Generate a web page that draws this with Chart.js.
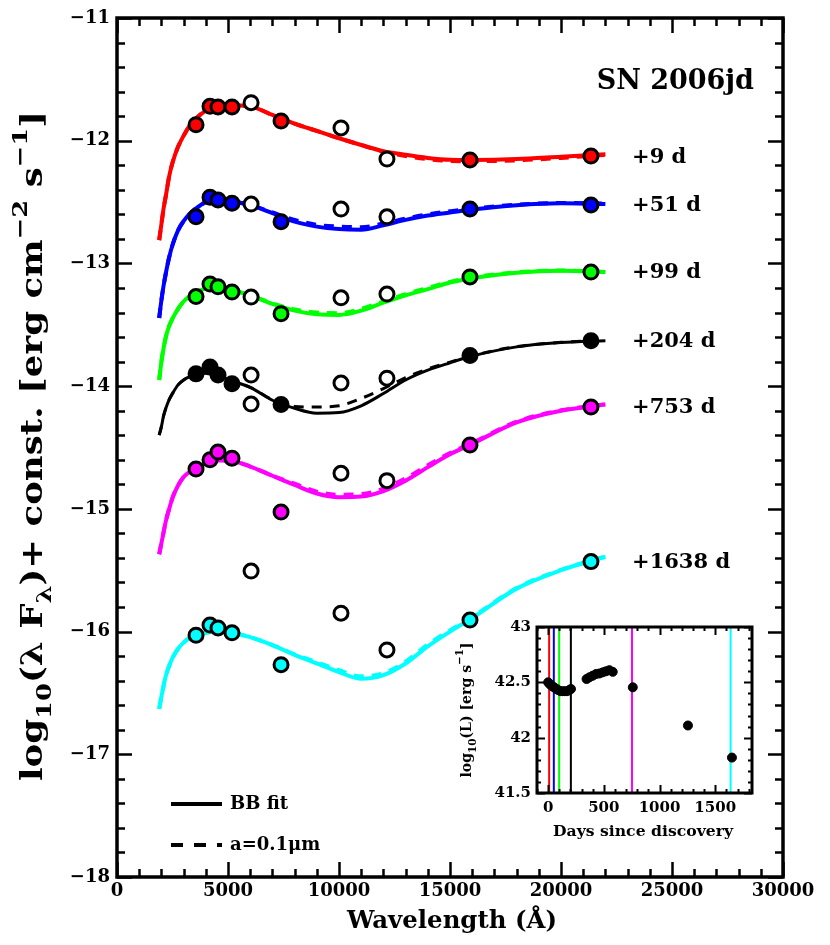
<!DOCTYPE html>
<html>
<head>
<meta charset="utf-8">
<script src="https://cdn.jsdelivr.net/npm/chart.js@4.4.1/dist/chart.umd.min.js"></script>
<style>
html, body { margin: 0; padding: 0; background: #fff; }
#wrap { position: relative; width: 830px; height: 945px; }
#main { position: absolute; left: 0; top: 0; }
#inset { position: absolute; left: 440px; top: 610px; }
</style>
</head>
<body>
<div id="wrap">
  <canvas id="main" width="830" height="945"></canvas>
  <canvas id="inset" width="320" height="235"></canvas>
</div>
<script>
// photometry bands (Angstrom)
const bandWave = [3560, 4190, 4550, 5180, 6040, 7390, 10090, 12160, 15900, 21350];

const epochLabels = ['+9 d', '+51 d', '+99 d', '+204 d', '+753 d', '+1638 d'];
const epochDays = [9, 51, 99, 204, 753, 1638];
const epochColors = ['#ff0000', '#0000ff', '#00ff00', '#000000', '#ff00ff', '#00ffff'];

// filled symbols (null = none in that band)
const fill9    = [-11.87, -11.72, -11.725, -11.725, null, -11.84, null, null, -12.157, -12.125];
const fill51   = [-12.62, -12.46, -12.483, -12.51, null, -12.66, null, null, -12.557, -12.524];
const fill99   = [-13.27, -13.168, -13.19, -13.233, null, -13.41, null, null, -13.11, -13.07];
const fill204  = [-13.90, -13.845, -13.91, -13.98, null, -14.15, null, null, -13.75, -13.63];
const fill753  = [-14.676, -14.60, -14.537, -14.587, null, -15.026, null, null, -14.48, -14.17];
const fill1638 = [-16.03, -15.947, -15.97, -16.01, null, -16.27, null, null, -15.906, -15.43];

// open symbols
const open9    = [null, null, null, null, -11.69, null, -11.896, -12.149, null, null];
const open51   = [null, null, null, null, -12.516, null, -12.557, -12.62, null, null];
const open99   = [null, null, null, null, -13.274, null, -13.28, -13.25, null, null];
const open204  = [null, null, null, null, -13.91, null, -13.975, -13.935, null, null];
const open753  = [null, null, null, null, -14.146, null, -14.71, -14.77, null, null];
const open1638 = [null, null, null, null, -15.507, null, -15.85, -16.15, null, null];

// model curves
const curveWave = [1900, 2000, 2100, 2200, 2350, 2500, 2750, 3000, 3250, 3500, 4000, 4500, 5000, 6000, 7000,
                   8000, 9000, 10000, 11000, 12000, 13000, 14000, 15000, 16000, 18000, 20000, 22000];

const bb9     = [-12.81, -12.68, -12.55, -12.45, -12.29, -12.18, -12.05, -11.96, -11.885, -11.83, -11.755, -11.72,
                 -11.71, -11.72, -11.79, -11.86, -11.92, -11.98, -12.035, -12.085, -12.115, -12.14, -12.155,
                 -12.157, -12.15, -12.13, -12.11];
const dust9   = [-12.81, -12.68, -12.55, -12.45, -12.29, -12.18, -12.05, -11.96, -11.885, -11.83, -11.755, -11.72,
                 -11.71, -11.72, -11.79, -11.86, -11.92, -11.98, -12.035, -12.09, -12.125, -12.15, -12.165,
                 -12.167, -12.16, -12.14, -12.115];
const bb51    = [-13.445, -13.30, -13.18, -13.08, -12.95, -12.85, -12.73, -12.655, -12.60, -12.56, -12.50, -12.485,
                 -12.49, -12.525, -12.59, -12.66, -12.70, -12.72, -12.725, -12.69, -12.645, -12.61, -12.585,
                 -12.56, -12.525, -12.51, -12.515];
const dust51  = [-13.445, -13.30, -13.18, -13.08, -12.95, -12.85, -12.73, -12.655, -12.60, -12.56, -12.50, -12.485,
                 -12.49, -12.525, -12.585, -12.645, -12.685, -12.70, -12.705, -12.675, -12.635, -12.60, -12.575,
                 -12.553, -12.522, -12.508, -12.512];
const bb99    = [-13.95, -13.80, -13.69, -13.60, -13.51, -13.45, -13.37, -13.31, -13.27, -13.245, -13.205, -13.20,
                 -13.21, -13.26, -13.33, -13.385, -13.415, -13.42, -13.385, -13.32, -13.26, -13.21, -13.155,
                 -13.12, -13.075, -13.06, -13.07];
const dust99  = [-13.95, -13.80, -13.69, -13.60, -13.51, -13.45, -13.37, -13.31, -13.27, -13.245, -13.205, -13.20,
                 -13.21, -13.26, -13.325, -13.375, -13.40, -13.405, -13.37, -13.31, -13.25, -13.20, -13.15,
                 -13.115, -13.072, -13.058, -13.068];
const bb204   = [-14.40, -14.33, -14.24, -14.18, -14.11, -14.06, -13.99, -13.95, -13.925, -13.91, -13.895, -13.90,
                 -13.945, -14.01, -14.115, -14.18, -14.22, -14.215, -14.16, -14.06, -13.95, -13.87, -13.81,
                 -13.755, -13.68, -13.645, -13.63];
const dust204 = [-14.40, -14.33, -14.24, -14.18, -14.11, -14.06, -13.99, -13.95, -13.925, -13.91, -13.895, -13.90,
                 -13.945, -14.01, -14.11, -14.165, -14.17, -14.16, -14.10, -14.02, -13.93, -13.86, -13.805,
                 -13.752, -13.678, -13.643, -13.628];
const bb753   = [-15.37, -15.28, -15.19, -15.10, -15.00, -14.91, -14.81, -14.74, -14.70, -14.675, -14.63, -14.605,
                 -14.605, -14.655, -14.73, -14.805, -14.875, -14.905, -14.90, -14.855, -14.77, -14.66, -14.555,
                 -14.47, -14.295, -14.20, -14.15];
const dust753 = [-15.37, -15.28, -15.19, -15.10, -15.00, -14.91, -14.81, -14.74, -14.70, -14.675, -14.63, -14.605,
                 -14.605, -14.655, -14.73, -14.795, -14.86, -14.885, -14.88, -14.835, -14.752, -14.645, -14.545,
                 -14.462, -14.29, -14.197, -14.148];
const bb1638  = [-16.63, -16.53, -16.44, -16.36, -16.28, -16.215, -16.14, -16.09, -16.055, -16.035, -16.01, -16.0,
                 -16.005, -16.045, -16.11, -16.19, -16.26, -16.33, -16.385, -16.355, -16.26, -16.12, -16.0,
                 -15.89, -15.65, -15.50, -15.39];
const dust1638 = [-16.63, -16.53, -16.44, -16.36, -16.28, -16.215, -16.14, -16.09, -16.055, -16.035, -16.01, -16.0,
                 -16.005, -16.045, -16.11, -16.185, -16.25, -16.315, -16.365, -16.34, -16.245, -16.105, -15.99,
                 -15.882, -15.645, -15.497, -15.388];

const fills = [fill9, fill51, fill99, fill204, fill753, fill1638];
const opens = [open9, open51, open99, open204, open753, open1638];
const bbFits = [bb9, bb51, bb99, bb204, bb753, bb1638];
const dustFits = [dust9, dust51, dust99, dust204, dust753, dust1638];

// axis ticks
const xTicks = [0, 5000, 10000, 15000, 20000, 25000, 30000];
const yTicks = [-18, -17, -16, -15, -14, -13, -12, -11];

// inset light curve
const lcDays = [0, 10, 20, 30, 45, 60, 75, 90, 110, 130, 150, 170, 190, 205,
                345, 370, 400, 430, 460, 490, 520, 550, 580, 760, 1255, 1650];
const lcLogL = [42.50, 42.49, 42.48, 42.47, 42.46, 42.45, 42.44, 42.43, 42.42, 42.42, 42.42, 42.42, 42.43, 42.44,
                42.53, 42.545, 42.56, 42.575, 42.58, 42.59, 42.60, 42.61, 42.595, 42.455, 42.11, 41.82];
const insetXTicks = [0, 500, 1000, 1500];
const insetYTicks = [41.5, 42, 42.5, 43];

const SERIF = "'DejaVu Serif', serif";

function toPoints(xs, ys) {
    const pts = [];
    xs.forEach(function (x, i) {
        if (ys[i] !== null) pts.push({ x: x, y: ys[i] });
    });
    return pts;
}

function minorValues(min, max, step) {
    const out = [];
    const start = Math.ceil(min / step - 1e-9);
    const end = Math.floor(max / step + 1e-9);
    for (let k = start; k <= end; k++) out.push(+(k * step).toFixed(6));
    return out;
}

// draws text pieces (sub/superscripts) centred on (cx, cy); optional rotation and stretch to a width
function drawRich(ctx, parts, cx, cy, rotate, width) {
    ctx.save();
    ctx.translate(cx, cy);
    if (rotate) ctx.rotate(-Math.PI / 2);
    let total = 0;
    parts.forEach(function (p) {
        ctx.font = 'bold ' + p.size + 'px ' + SERIF;
        p.w = ctx.measureText(p.t).width;
        total += p.w;
    });
    if (width) ctx.scale(width / total, 1);
    let x = -total / 2;
    ctx.textAlign = 'left';
    ctx.textBaseline = 'alphabetic';
    ctx.fillStyle = '#000';
    parts.forEach(function (p) {
        ctx.font = 'bold ' + p.size + 'px ' + SERIF;
        ctx.fillText(p.t, x, p.dy);
        x += p.w;
    });
    ctx.restore();
}

function drawFrame(chart, o) {
    const ctx = chart.ctx;
    const a = chart.chartArea;
    const xs = chart.scales.x, ys = chart.scales.y;
    ctx.save();
    ctx.strokeStyle = '#000';
    ctx.lineWidth = o.tickWidth;
    ctx.beginPath();
    minorValues(xs.min, xs.max, o.xMinor).forEach(function (v) {
        const len = o.xMajor.indexOf(v) >= 0 ? o.majorLen : o.minorLen;
        const px = Math.round(xs.getPixelForValue(v)) + 0.5;
        ctx.moveTo(px, a.bottom); ctx.lineTo(px, a.bottom - len);
        ctx.moveTo(px, a.top); ctx.lineTo(px, a.top + len);
    });
    minorValues(ys.min, ys.max, o.yMinor).forEach(function (v) {
        const len = o.yMajor.indexOf(v) >= 0 ? o.majorLen : o.minorLen;
        const py = Math.round(ys.getPixelForValue(v)) + 0.5;
        ctx.moveTo(a.left, py); ctx.lineTo(a.left + len, py);
        ctx.moveTo(a.right, py); ctx.lineTo(a.right - len, py);
    });
    ctx.stroke();
    ctx.lineWidth = o.frameWidth;
    ctx.strokeRect(a.left, a.top, a.right - a.left, a.bottom - a.top);

    ctx.fillStyle = '#000';
    ctx.font = 'bold ' + o.labelSize + 'px ' + SERIF;
    ctx.textAlign = 'center';
    ctx.textBaseline = 'top';
    o.xMajor.forEach(function (v) {
        ctx.fillText(o.xFmt(v), xs.getPixelForValue(v), a.bottom + o.xLabelGap);
    });
    ctx.textAlign = 'right';
    ctx.textBaseline = 'middle';
    o.yMajor.forEach(function (v) {
        ctx.fillText(o.yFmt(v), a.left - o.yLabelGap, ys.getPixelForValue(v));
    });
    ctx.restore();
}

const mainDecor = {
    id: 'mainDecor',
    afterDraw(chart) {
        drawFrame(chart, {
            xMajor: xTicks, yMajor: yTicks, xMinor: 1000, yMinor: 0.2,
            majorLen: 15, minorLen: 8, tickWidth: 2.5, frameWidth: 3.5,
            labelSize: 18, xLabelGap: 5, yLabelGap: 7,
            xFmt: function (v) { return String(v); },
            yFmt: function (v) { return v < 0 ? '\u2212' + Math.abs(v) : String(v); }
        });
        const ctx = chart.ctx;
        const xs = chart.scales.x, ys = chart.scales.y;
        ctx.save();
        ctx.fillStyle = '#000';

        // epoch labels next to the reddest band
        ctx.font = 'bold 21px ' + SERIF;
        ctx.textAlign = 'left';
        ctx.textBaseline = 'middle';
        epochLabels.forEach(function (t, i) {
            const last = fills[i][fills[i].length - 1];
            ctx.fillText(t, xs.getPixelForValue(23200), ys.getPixelForValue(last) + 1);
        });

        ctx.font = 'bold 27px ' + SERIF;
        ctx.textAlign = 'right';
        ctx.fillText('SN 2006jd', 754, 82);

        // legend
        ctx.strokeStyle = '#000';
        ctx.lineWidth = 4;
        ctx.beginPath(); ctx.moveTo(171, 804); ctx.lineTo(222, 804); ctx.stroke();
        ctx.setLineDash([12, 11]);
        ctx.beginPath(); ctx.moveTo(171, 845); ctx.lineTo(222, 845); ctx.stroke();
        ctx.setLineDash([]);
        ctx.font = 'bold 18px ' + SERIF;
        ctx.textAlign = 'left';
        ctx.fillText('BB fit', 230, 804);
        ctx.fillText('a=0.1\u03bcm', 230, 845);
        ctx.restore();

        // axis titles
        drawRich(ctx, [{ t: 'Wavelength (\u00c5)', size: 24, dy: 0 }], 452, 928, false, 210);
        drawRich(ctx, [
            { t: 'log', size: 29, dy: 0 },
            { t: '10', size: 21, dy: 9 },
            { t: '(\u03bb F', size: 29, dy: 0 },
            { t: '\u03bb', size: 21, dy: 9 },
            { t: ')+ const. [erg cm', size: 29, dy: 0 },
            { t: '\u22122', size: 21, dy: -15 },
            { t: ' s', size: 29, dy: 0 },
            { t: '\u22121', size: 21, dy: -15 },
            { t: ']', size: 29, dy: 0 }
        ], 42, 446, true, 670);
    }
};

const datasets = [];
epochColors.forEach(function (c, i) {
    const w = c === '#000000' ? 3 : 4;
    datasets.push({
        data: toPoints(curveWave, bbFits[i]), showLine: true, pointRadius: 0,
        borderColor: c, borderWidth: w, cubicInterpolationMode: 'monotone', order: 3
    });
    datasets.push({
        data: toPoints(curveWave, dustFits[i]), showLine: true, pointRadius: 0,
        borderColor: c, borderWidth: w, borderDash: [10, 8], cubicInterpolationMode: 'monotone', order: 2
    });
});
epochColors.forEach(function (c, i) {
    datasets.push({
        data: toPoints(bandWave, opens[i]), showLine: false,
        pointRadius: 7, pointBackgroundColor: '#ffffff', pointBorderColor: '#000', pointBorderWidth: 3, order: 1
    });
    datasets.push({
        data: toPoints(bandWave, fills[i]), showLine: false,
        pointRadius: 7, pointBackgroundColor: c, pointBorderColor: '#000', pointBorderWidth: 3, order: 0
    });
});

new Chart(document.getElementById('main').getContext('2d'), {
    type: 'scatter',
    data: { datasets: datasets },
    options: {
        responsive: false,
        animation: false,
        layout: { padding: { left: 117, right: 47, top: 18, bottom: 68 } },
        scales: {
            x: { type: 'linear', min: 0, max: 30000, display: false },
            y: { type: 'linear', min: -18, max: -11, display: false }
        },
        plugins: { legend: { display: false }, tooltip: { enabled: false } }
    },
    plugins: [mainDecor]
});

// ---- inset ----
const insetDecor = {
    id: 'insetDecor',
    afterDraw(chart) {
        drawFrame(chart, {
            xMajor: insetXTicks, yMajor: insetYTicks, xMinor: 100, yMinor: 0.1,
            majorLen: 8, minorLen: 4, tickWidth: 2, frameWidth: 3,
            labelSize: 15, xLabelGap: 8, yLabelGap: 6,
            xFmt: function (v) { return String(v); },
            yFmt: function (v) { return String(v); }
        });
        const ctx = chart.ctx;
        drawRich(ctx, [{ t: 'Days since discovery', size: 15, dy: 0 }], 203, 226, false, 180);
        drawRich(ctx, [
            { t: 'log', size: 15, dy: 0 },
            { t: '10', size: 11, dy: 5 },
            { t: '(L) [erg s', size: 15, dy: 0 },
            { t: '\u22121', size: 11, dy: -8 },
            { t: ']', size: 15, dy: 0 }
        ], 31, 100, true, 135);
    }
};

const insetSets = [];
epochDays.forEach(function (d, i) {
    insetSets.push({
        data: [{ x: d, y: insetYTicks[0] }, { x: d, y: insetYTicks[insetYTicks.length - 1] }],
        showLine: true, pointRadius: 0, borderColor: epochColors[i], borderWidth: 2, order: 2
    });
});
insetSets.push({
    data: toPoints(lcDays, lcLogL), showLine: false,
    pointRadius: 4.5, pointBackgroundColor: '#000', pointBorderColor: '#000', pointBorderWidth: 1, order: 1
});

new Chart(document.getElementById('inset').getContext('2d'), {
    type: 'scatter',
    data: { datasets: insetSets },
    options: {
        responsive: false,
        animation: false,
        layout: { padding: { left: 97, right: 8, top: 17, bottom: 52 } },
        scales: {
            x: { type: 'linear', min: -100, max: 1830, display: false },
            y: { type: 'linear', min: 41.5, max: 43, display: false }
        },
        plugins: { legend: { display: false }, tooltip: { enabled: false } }
    },
    plugins: [insetDecor]
});
</script>
</body>
</html>
